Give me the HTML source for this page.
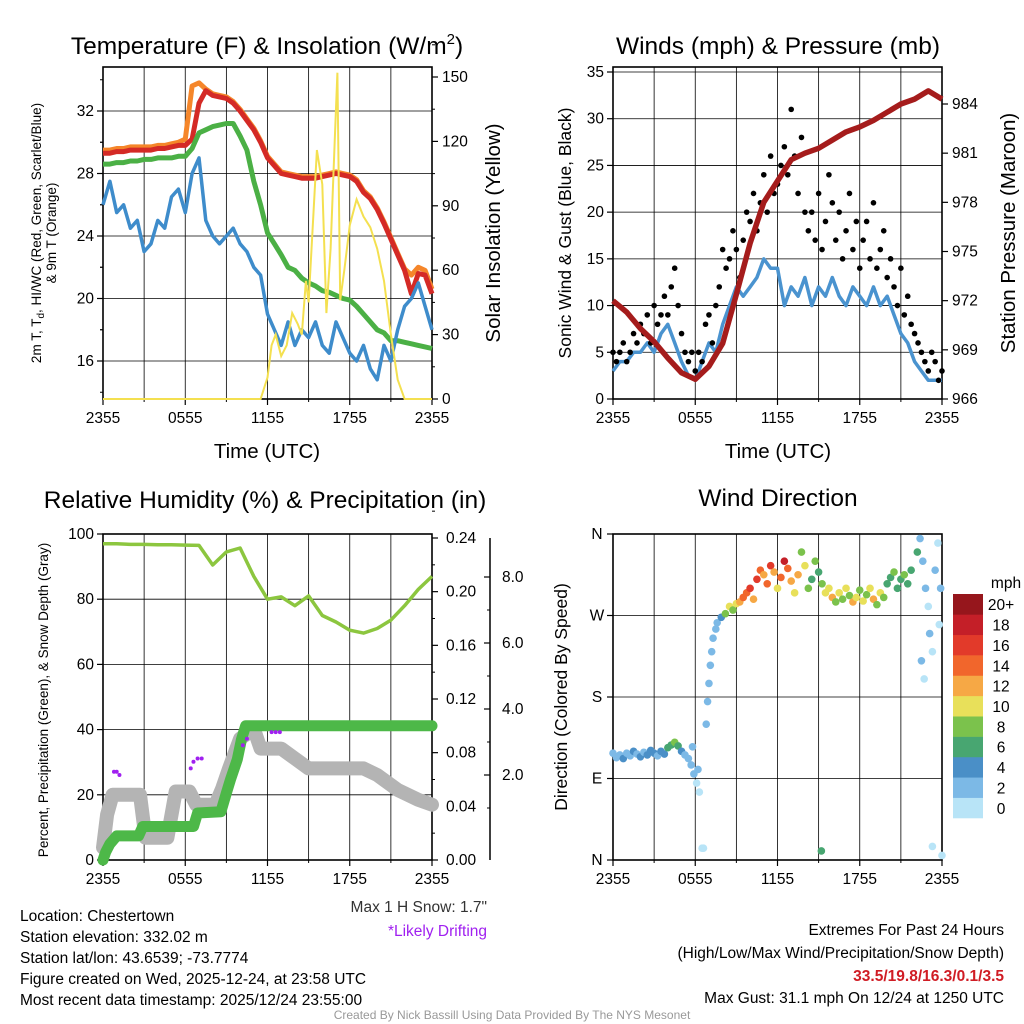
<!DOCTYPE html>
<html><head><meta charset="utf-8"><style>
html,body{margin:0;padding:0;background:#fff;}
svg{display:block;font-family:"Liberation Sans",sans-serif;}
</style></head><body>
<svg id="c" width="1024" height="1024" viewBox="0 0 1024 1024">
<rect width="1024" height="1024" fill="#fff"/>
<g id="g1"></g>
<g id="g2"></g>
<g id="g3"></g>
<g id="g4"></g>
<g font-size="24.5" text-anchor="middle" fill="#000">
<text x="267" y="54">Temperature (F) &amp; Insolation (W/m<tspan font-size="15" dy="-10">2</tspan><tspan dy="10">)</tspan></text>
<text x="778" y="54">Winds (mph) &amp; Pressure (mb)</text>
<text x="265" y="508">Relative Humidity (%) &amp; Precipitation (in)</text>
<text x="778" y="506">Wind Direction</text>
</g>
<g font-size="20.5" text-anchor="middle">
<text x="267" y="458">Time (UTC)</text>
<text x="778" y="458">Time (UTC)</text>
<text transform="translate(500,233) rotate(-90)">Solar Insolation (Yellow)</text>
<text transform="translate(1015,233) rotate(-90)">Station Pressure (Maroon)</text>
</g>
<g font-size="17.5" text-anchor="middle">
<text transform="translate(571,233) rotate(-90)">Sonic Wind &amp; Gust (Blue, Black)</text>
<text transform="translate(567,697) rotate(-90)">Direction (Colored By Speed)</text>
</g>
<g font-size="13.5" text-anchor="middle">
<text transform="translate(41,233) rotate(-90)">2m T, T<tspan font-size="10" dy="3">d</tspan><tspan dy="-3">, HI/WC (Red, Green, Scarlet/Blue)</tspan></text>
<text transform="translate(56,233) rotate(-90)">&amp; 9m T (Orange)</text>
<text transform="translate(48,700) rotate(-90)">Percent, Precipitation (Green), &amp; Snow Depth (Gray)</text>
</g>
<g font-size="15.5" fill="#000">
<text x="20" y="921">Location: Chestertown</text>
<text x="20" y="942">Station elevation: 332.02 m</text>
<text x="20" y="963">Station lat/lon: 43.6539; -73.7774</text>
<text x="20" y="984">Figure created on Wed, 2025-12-24, at 23:58 UTC</text>
<text x="20" y="1005">Most recent data timestamp: 2025/12/24 23:55:00</text>
<g text-anchor="end">
<text x="1004" y="935">Extremes For Past 24 Hours</text>
<text x="1004" y="958">(High/Low/Max Wind/Precipitation/Snow Depth)</text>
<text x="1004" y="981" fill="#d01c24" font-weight="bold">33.5/19.8/16.3/0.1/3.5</text>
<text x="1004" y="1003">Max Gust: 31.1 mph On 12/24 at 1250 UTC</text>
<text x="487" y="912" fill="#333">Max 1 H Snow: 1.7"</text>
<text x="487" y="936" fill="#a020f0">*Likely Drifting</text>
</g>
</g>
<text x="512" y="1019" font-size="12" fill="#999" text-anchor="middle">Created By Nick Bassill Using Data Provided By The NYS Mesonet</text>
</svg>
<script>
// ---------- data ----------
const timeLabels=["2355","0555","1155","1755","2355"];
const tempTicks=[16,20,24,28,32];
const solarTicks=[0,30,60,90,120,150];
const windTicks=[0,5,10,15,20,25,30,35];
const presTicks=[966,969,972,975,978,981,984];
const rhTicks=[0,20,40,60,80,100];
const precipTicks=[0.00,0.04,0.08,0.12,0.16,0.20,0.24];
const snowTicks=[2.0,4.0,6.0,8.0];
const dirLabels=["N","E","S","W","N"];
const speedBins=["0","2","4","6","8","10","12","14","16","18","20+"];
// half-hourly temperatures
const tempRed=[29.3,29.3,29.4,29.4,29.5,29.5,29.5,29.5,29.6,29.6,29.7,29.8,29.8,30.2,32.5,33.3,33,32.9,32.8,32.5,32,31.4,30.8,30,29,28.5,28,27.9,27.8,27.7,27.7,27.7,27.8,27.9,28,27.9,27.8,27.5,26.8,26.4,25.7,24.8,23.8,22.8,21.8,20.3,21.6,21.5,20.3];
const tempOrange=[29.5,29.5,29.6,29.6,29.7,29.7,29.7,29.7,29.8,29.8,29.9,30,30.2,33.6,33.8,33.4,33.1,33,32.9,32.6,32.1,31.5,30.9,30.1,29.1,28.6,28.1,28,27.9,27.8,27.8,27.8,27.9,28,28.1,28,27.9,27.6,26.9,26.5,25.8,24.9,23.9,22.9,21.9,21.5,22,21.8,20.6];
const tempGreen=[28.6,28.6,28.7,28.7,28.8,28.8,28.9,28.9,29,29,29,29.1,29.1,29.6,30.6,30.8,31,31.1,31.2,31.2,30.4,29.5,27.5,26,24.2,23.5,22.8,22,21.8,21.3,21,20.8,20.5,20.4,20.2,20,19.9,19.5,19,18.5,18,17.8,17.3,17.3,17.2,17.1,17,16.9,16.8];
const tempBlue=[26,27.5,25.5,26,24.5,25,23,23.5,25,24.5,26.5,27,25.5,28,29,25,24,23.5,24,24.5,23.5,23,22,21.5,19,18,17,18.5,17,18,17.5,18.5,17,16.5,18.5,17.5,16.5,16,17,15.5,14.8,17,16,18,19.5,20,21,19.5,18];
const solarTimes=[0,11.5,12,12.3,12.6,13,13.4,13.8,14.2,14.5,14.8,15,15.3,15.6,16,16.3,16.6,16.9,17.1,17.3,17.6,18,18.5,19,19.5,20,20.5,21,21.5,22,24];
const solarVals=[0,0,10,25,30,20,25,40,35,30,55,45,80,116,100,40,70,120,152,46,60,81,93,85,80,70,55,30,9,0,0];
// winds
const windSust=[3,4,4,5,5,6,5,7,8,6,4,2.5,2,4,6,5,8,10,12,11,12,13,15,14,14,10,12,11,13,10,12,11,13,11,10,12,11,10,12,10,11,9,7,6,4,3,2,2,2];
const windGust=[5,4,5,6,4,5,7,6,8,7,9,6,10,8,9,11,9,12,14,10,7,5,4,5,3,5,4,8,9,6,10,12,16,14,15,18,16,13,17,20,19,22,18,21,24,20,26,22,23,25,27,24,31,26,22,28,20,18,20,17,22,16,19,24,21,17,20,15,18,22,16,19,14,17,19,15,21,14,16,18,13,15,12,10,14,9,11,8,7,6,5,4,3,5,4,2,3];
const pressure=[972,971.3,970.3,969.5,968.5,967.6,967.2,968,969.4,972.4,975.5,978,979.3,980.6,981,981.3,981.8,982.3,982.6,983,983.5,984,984.3,984.8,984.3];
// humidity / precip / snow
const rhVals=[97,97,96.8,96.8,96.7,96.7,96.6,96.5,90.5,94.5,95.7,87,80,80.7,78,81,75,73,70.5,69.6,71,73.6,78,83,87];
const precipTimes=[0,0.2,0.5,1,2.6,2.9,6.6,6.9,8.6,9,9.3,9.8,10.1,10.4,24];
const precipVals=[0,0.006,0.012,0.018,0.018,0.025,0.025,0.035,0.036,0.05,0.06,0.075,0.09,0.1,0.1];
const snowTimes=[0,0.3,0.7,2.7,3.1,4.7,5.3,6.3,6.8,8.2,8.7,9.2,10,11,11.5,13,14,15,19,20,21.5,23,24];
const snowVals=[-0.2,0.8,1.4,1.4,0.1,0.1,1.5,1.5,1.1,1.1,1.6,2.2,3.1,3.4,2.8,2.8,2.5,2.2,2.2,2.0,1.55,1.25,1.1];
const driftTimes=[0.8,1.0,1.2,6.4,6.6,6.9,7.2,10.2,10.5,12.3,12.6,12.9];
const driftVals=[2.1,2.1,2.0,2.2,2.4,2.5,2.5,2.9,3.1,3.3,3.3,3.3];
// wind direction
const dirTimes=[0,0.25,0.5,0.75,1,1.25,1.5,1.75,2,2.25,2.5,2.75,3,3.25,3.5,3.75,4,4.25,4.5,4.75,5,5.25,5.5,
5.7,5.8,5.9,6.1,6.2,6.3,6.5,6.6,6.8,6.9,7.0,7.1,7.2,7.3,7.5,7.6,7.9,8.2,
8.5,8.75,9,9.25,9.5,9.75,10,10.25,10.5,10.75,11,11.25,11.5,11.75,12,12.25,12.5,12.75,13,13.25,13.5,13.75,14,14.25,14.5,14.75,15,15.25,15.5,15.75,16,16.25,16.5,16.75,17,17.25,17.5,17.75,18,18.25,18.5,18.75,19,19.25,19.5,19.75,20,20.25,20.5,20.75,21,21.25,21.5,21.75,
22.2,22.4,22.6,22.8,23,23.1,23.3,23.5,23.7,23.8,23.9,24,23.3,22.5,22.7,15.2];
const dirVals=[118,113,116,112,118,115,120,117,114,119,116,121,118,115,120,117,124,127,130,126,120,116,112,
105,125,95,85,100,75,13,13,150,175,195,215,230,245,255,262,268,272,
280,276,283,285,290,295,300,288,310,320,315,305,325,318,300,312,330,322,308,295,315,340,325,300,310,330,318,305,295,300,290,285,295,288,300,292,285,290,298,286,293,300,288,282,295,290,305,312,318,300,310,315,305,320,
340,355,330,300,280,250,230,320,350,260,300,5,15,220,200,10];
const dirSpeeds=[3,2,3,4,3,2,4,3,4,3,4,5,4,3,4,5,6,7,8,6,4,3,3,
3,2,2,1,2,1,1,1,3,2,3,2,3,2,3,3,5,8,
10,9,11,12,14,15,16,13,17,15,12,14,16,13,11,15,18,14,12,10,13,8,10,9,7,8,6,9,11,10,12,9,10,8,11,9,12,10,8,11,9,10,12,8,11,9,7,6,8,7,6,9,7,6,
6,3,2,2,1,2,1,2,1,1,2,1,1,2,1,7];
const speedColors=["#b8e4f7","#7cb9e6","#4a8fc7","#48a671","#7bc24c","#e8e05a","#f6a845","#f1662c","#e23a2a","#c41f28","#96161c"];

// ---------- helpers ----------
const NS="http://www.w3.org/2000/svg";
function mk(parent,tag,attrs){const e=document.createElementNS(NS,tag);for(const k in attrs)e.setAttribute(k,attrs[k]);parent.appendChild(e);return e;}
function lin(d0,d1,r0,r1){return v=>r0+(v-d0)*(r1-r0)/(d1-d0);}
function pathD(xs,ys,fx,fy){return xs.map((x,i)=>(i?"L":"M")+fx(x).toFixed(1)+","+fy(ys[i]).toFixed(1)).join("");}
function fmt(v,dec){return v.toFixed(dec);}
const TF=15.5;

function frame(g,L,T,R,B,name){
  const fx=lin(0,24,L,R);
  for(let h=3;h<24;h+=3){const l=mk(g,"line",{x1:fx(h),x2:fx(h),y1:T,y2:B,stroke:"#000","stroke-width":0.8});
    
    }
  const r=mk(g,"rect",{x:L,y:T,width:R-L,height:B-T,fill:"none",stroke:"#000","stroke-width":1.6});
  
  
  timeLabels.forEach((s,i)=>{const x=fx(i*6);
    mk(g,"line",{x1:x,x2:x,y1:B,y2:B+6,stroke:"#000","stroke-width":1.2});
    const t=mk(g,"text",{x:x,y:B+24,"font-size":TF,"text-anchor":"middle"});t.textContent=s;
    
    });
  for(let h=3;h<24;h+=6){const x=fx(h);mk(g,"line",{x1:x,x2:x,y1:B,y2:B+3,stroke:"#000","stroke-width":1});}
  return fx;
}
function hgrid(g,L,R,ys){ys.forEach(y=>{const l=mk(g,"line",{x1:L,x2:R,y1:y,y2:y,stroke:"#000","stroke-width":0.8});
  
  });}
function leftTicks(g,x,vals,fy,dec,minorStep){
  vals.forEach(v=>{const y=fy(v);mk(g,"line",{x1:x-6,x2:x,y1:y,y2:y,stroke:"#000","stroke-width":1.2});
    const t=mk(g,"text",{x:x-9,y:y+5,"font-size":TF,"text-anchor":"end"});t.textContent=fmt(v,dec);
    
    });
  if(minorStep){vals.forEach(v=>{[v-minorStep,v+minorStep].forEach(m=>{const y=fy(m);mk(g,"line",{x1:x-3,x2:x,y1:y,y2:y,stroke:"#000","stroke-width":1});});});}
}
function rightTicks(g,x,vals,fy,dec,minorStep,off){
  vals.forEach(v=>{const y=fy(v);mk(g,"line",{x1:x,x2:x+6,y1:y,y2:y,stroke:"#000","stroke-width":1.2});
    const t=mk(g,"text",{x:x+(off||12),y:y+5,"font-size":TF,"text-anchor":"start"});t.textContent=fmt(v,dec);
    
    });
  if(minorStep){vals.forEach(v=>{const y=fy(v+minorStep);mk(g,"line",{x1:x,x2:x+3,y1:y,y2:y,stroke:"#000","stroke-width":1});});}
}
const half=tempRed.map((_,i)=>i*0.5);
const hourly=pressure.map((_,i)=>i);

// ---------- panel 1 ----------
(function(){
  const g=document.getElementById("g1");const L=103,R=432,T=67,B=399;
  const fy=lin(16,32,361,111);const fs=lin(0,150,399,77);
  hgrid(g,L,R,tempTicks.map(fy));
  const fx=frame(g,L,T,R,B,"temperature");
  leftTicks(g,L,tempTicks,fy,0,2);
  rightTicks(g,R,solarTicks,fs,0,15,10);
  const series=[[tempOrange,"#f5862a","orange-9m-temp-line"],[tempRed,"#d42a26","red-2m-temp-line"],[tempGreen,"#4bb045","green-dewpoint-line"],[tempBlue,"#3e8ccb","blue-windchill-line"]];
  series.forEach(s=>{const p=mk(g,"path",{d:pathD(half,s[0],fx,fy),fill:"none",stroke:s[1],"stroke-width":s[1]=="#3e8ccb"?3.5:5,"stroke-linejoin":"round"});
    
    });
  const sp=mk(g,"path",{d:pathD(solarTimes,solarVals,fx,fs),fill:"none",stroke:"#f4e050","stroke-width":2});
  
  
})();
// ---------- panel 2 ----------
(function(){
  const g=document.getElementById("g2");const L=613,R=942,T=67,B=399;
  const fy=lin(0,35,399,72);const fp=lin(966,984,399,104);
  hgrid(g,L,R,windTicks.map(fy));
  const fx=frame(g,L,T,R,B,"wind");
  leftTicks(g,L,windTicks,fy,0,0);
  rightTicks(g,R,presTicks,fp,0,0,10);
  const bp=mk(g,"path",{d:pathD(half,windSust,fx,fy),fill:"none",stroke:"#4a93cf","stroke-width":3.5,"stroke-linejoin":"round"});
  
  
  windGust.forEach((v,i)=>{const c=mk(g,"circle",{cx:fx(i*0.25),cy:fy(v),r:2.8,fill:"#000"});
    
    });
  const pp=mk(g,"path",{d:pathD(hourly,pressure,fx,fp),fill:"none",stroke:"#a51c1c","stroke-width":5.5,"stroke-linejoin":"round"});
  
  
})();
// ---------- panel 3 ----------
(function(){
  const g=document.getElementById("g3");const L=103,R=432,T=534,B=860;
  const fy=lin(0,100,860,534);const fpr=lin(0,0.24,860,538);const fsn=lin(0,2,841,775);
  hgrid(g,L,R,rhTicks.map(fy));
  const fx=frame(g,L,T,R,B,"humidity");
  leftTicks(g,L,rhTicks,fy,0,0);
  rightTicks(g,R,precipTicks,fpr,2,0.02,14);
  const ax=mk(g,"line",{x1:490,x2:490,y1:538,y2:860,stroke:"#000","stroke-width":1.5});
  
  
  snowTicks.forEach(v=>{const y=fsn(v);mk(g,"line",{x1:490,x2:484,y1:y,y2:y,stroke:"#000","stroke-width":1.2});
    const t=mk(g,"text",{x:502,y:y+5,"font-size":TF});t.textContent=fmt(v,1);
    
    });
  [1,3,5,7].forEach(v=>{const y=fsn(v);mk(g,"line",{x1:490,x2:487,y1:y,y2:y,stroke:"#000","stroke-width":1});});
  const sn=mk(g,"path",{d:pathD(snowTimes,snowVals,fx,fsn),fill:"none",stroke:"#b4b4b4","stroke-width":14,"stroke-linejoin":"round","stroke-linecap":"round"});
  
  
  const pr=mk(g,"path",{d:pathD(precipTimes,precipVals,fx,fpr),fill:"none",stroke:"#4db848","stroke-width":11,"stroke-linejoin":"round","stroke-linecap":"round"});
  
  
  const rh=mk(g,"path",{d:pathD(hourly,rhVals,fx,fy),fill:"none",stroke:"#8cc63f","stroke-width":3.5,"stroke-linejoin":"round"});
  
  
  driftTimes.forEach((t,i)=>{const c=mk(g,"circle",{cx:fx(t),cy:fsn(driftVals[i]),r:2,fill:"#a020f0"});
    
    });
})();
// ---------- panel 4 ----------
(function(){
  const g=document.getElementById("g4");const L=613,R=942,T=534,B=860;
  const fy=lin(0,360,860,534);
  const dirDeg=[0,90,180,270,360];
  hgrid(g,L,R,dirDeg.map(fy));
  const fx=frame(g,L,T,R,B,"direction");
  dirDeg.forEach((d,i)=>{const y=fy(d);mk(g,"line",{x1:L-6,x2:L,y1:y,y2:y,stroke:"#000","stroke-width":1.2});
    const t=mk(g,"text",{x:L-16,y:y+5,"font-size":TF,"text-anchor":"middle"});t.textContent=dirLabels[i];
    
    });
  dirTimes.forEach((t,i)=>{const k=Math.min(10,Math.floor(dirSpeeds[i]/2));
    const c=mk(g,"circle",{cx:fx(t),cy:fy(dirVals[i]),r:3.8,fill:speedColors[k]});
    
    });
  const cb=mk(g,"g",{});
  
  
  const h=224/speedBins.length;
  speedBins.forEach((lab,i)=>{const y=818-(i+1)*h;
    const r=mk(cb,"rect",{x:953,y:y,width:30,height:h+0.3,fill:speedColors[i]});
    
    
    const t=mk(cb,"text",{x:1001,y:y+h/2+6,"font-size":15.5,"text-anchor":"middle"});t.textContent=lab;
    
    });
  const u=mk(cb,"text",{x:1006,y:588,"font-size":15.5,"text-anchor":"middle"});u.textContent="mph";
  
  
})();
</script>
</body></html>
